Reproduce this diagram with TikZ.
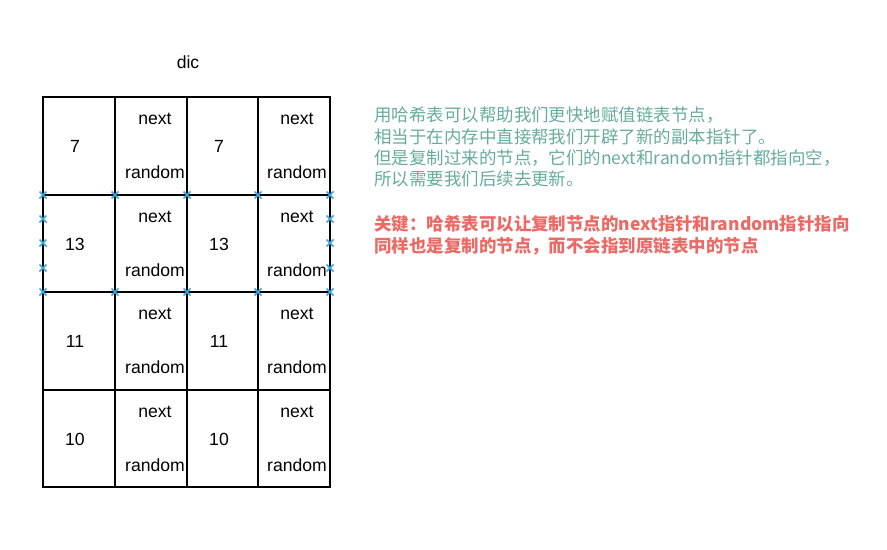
\documentclass[tikz,border=0pt]{standalone}
\usepackage{fontspec}
\setmainfont{Liberation Sans}
\newfontfamily\cjk{Noto Sans CJK SC}
\definecolor{noteteal}{HTML}{67AB9F}
\definecolor{notered}{HTML}{EA6B66}
\definecolor{markblue}{HTML}{3AA8E0}
\begin{document}
\begin{tikzpicture}[x=0.75pt,y=-0.75pt,
  cell/.style={draw=black,line width=1.3pt,anchor=north west,inner sep=0pt,outer sep=0pt},
  txt/.style={font=\fontsize{13.2}{15}\selectfont,inner sep=0pt},
  mk/.style={draw=markblue,line width=1.1pt},
  note/.style={font=\cjk\fontsize{13.1}{16}\selectfont,anchor=north west,align=left,inner sep=0pt}]
\useasboundingbox (0,0) rectangle (887,549);
\node[txt] (dic) at (188,62) {dic};
% rows
\foreach \r/\top/\h/\key in {1/97/98/7,2/195/97/13,3/292/98/11,4/390/97/10}{
  \node[cell,minimum width=54pt,minimum height={\h*0.75pt}] (k\r) at (43,\top) {};
  \node[cell,minimum width=54pt,minimum height={\h*0.75pt}] (p\r) at (115,\top) {};
  \node[cell,minimum width=53.25pt,minimum height={\h*0.75pt}] (c\r) at (187,\top) {};
  \node[cell,minimum width=54pt,minimum height={\h*0.75pt}] (q\r) at (258,\top) {};
  \node[txt] (kt\r) at (75,\top+49) {\key};
  \node[txt] (ct\r) at (219,\top+49) {\key};
  \node[txt] (pn\r) at (155,\top+22) {next};
  \node[txt] (pr\r) at (155,\top+75) {random};
  \node[txt] (qn\r) at (297,\top+22) {next};
  \node[txt] (qr\r) at (297,\top+75) {random};
}
% selection markers
\foreach \x in {43,115,187,258,330}{
  \foreach \y in {195,292}{
    \coordinate (m\x-\y) at (\x,\y);
    \draw[mk] ([shift={(-3.5,-3.5)}]m\x-\y) -- ([shift={(3.5,3.5)}]m\x-\y);
    \draw[mk] ([shift={(-3.5,3.5)}]m\x-\y) -- ([shift={(3.5,-3.5)}]m\x-\y);
  }
}
\foreach \x in {43,330}{
  \foreach \y in {219,243,268}{
    \coordinate (m\x-\y) at (\x,\y);
    \draw[mk] ([shift={(-3.5,-3.5)}]m\x-\y) -- ([shift={(3.5,3.5)}]m\x-\y);
    \draw[mk] ([shift={(-3.5,3.5)}]m\x-\y) -- ([shift={(3.5,-3.5)}]m\x-\y);
  }
}
\node[note,text=noteteal] (n1) at (374,107) {用哈希表可以帮助我们更快地赋值链表节点，\\相当于在内存中直接帮我们开辟了新的副本指针了。\\但是复制过来的节点，它们的next和random指针都指向空，\\所以需要我们后续去更新。};
\node[note,text=notered,font=\cjk\bfseries\fontsize{13.1}{16.5}\selectfont] (n2) at (374,215) {关键：哈希表可以让复制节点的next指针和random指针指向\\同样也是复制的节点，而不会指到原链表中的节点};
\end{tikzpicture}
\end{document}
